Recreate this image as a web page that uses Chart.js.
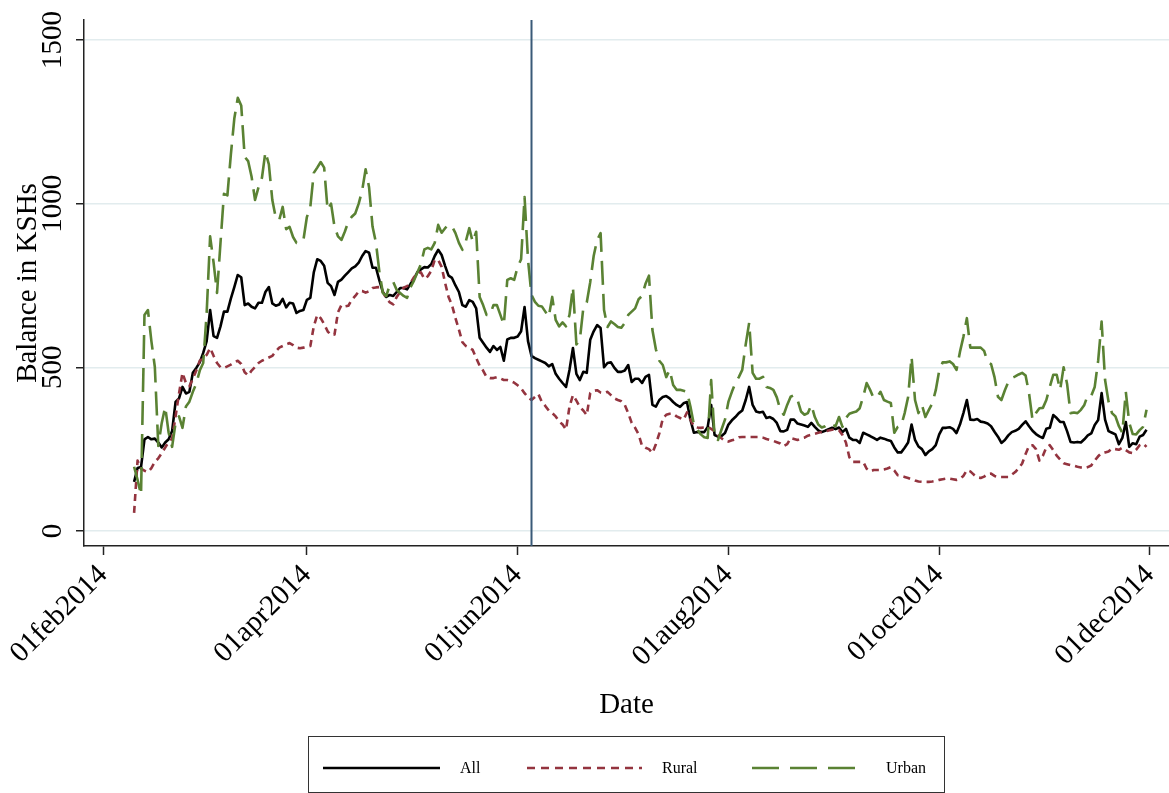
<!DOCTYPE html>
<html>
<head>
<meta charset="utf-8">
<script src="https://cdn.jsdelivr.net/npm/chart.js@4.4.1/dist/chart.umd.min.js"></script>
<style>
  html, body { margin: 0; padding: 0; background: #ffffff; }
  #wrap { width: 1169px; height: 793px; position: relative; }
</style>
</head>
<body>
<div id="wrap"><canvas id="c" width="1169" height="793"></canvas></div>
<script>
// Daily mean balances (KSh), one value per day starting at firstDate
const firstDate = '2014-02-10';
const axisOrigin = '2014-02-01';
const tickDates = ['2014-02-01', '2014-04-01', '2014-06-01', '2014-08-01', '2014-10-01', '2014-12-01'];
const tickLabels = ['01feb2014', '01apr2014', '01jun2014', '01aug2014', '01oct2014', '01dec2014'];
const yTickValues = [0, 500, 1000, 1500];
const eventDate = '2014-06-05';
const seriesNames = ['All', 'Rural', 'Urban'];

const allBalance = [
  150,192,195,280,287,280,282,270,255,270,
  280,305,394,405,440,420,425,483,498,515,
  544,580,675,595,590,625,670,670,710,745,
  782,775,690,695,685,680,697,697,730,745,
  695,688,692,709,683,697,695,666,672,675,
  706,712,790,830,825,810,758,748,721,761,
  768,780,791,802,808,820,840,855,850,804,
  804,765,730,715,721,718,730,742,742,738,
  755,770,791,799,806,805,815,840,859,843,
  810,780,773,750,730,690,685,705,700,680,
  590,575,560,547,565,553,562,520,585,590,
  590,594,610,684,580,535,528,523,518,513,
  503,510,480,465,452,440,492,559,480,461,
  486,483,584,610,629,620,500,513,515,498,
  486,486,490,507,455,465,465,452,471,477,
  385,380,400,409,412,405,394,385,379,390,
  394,340,300,302,302,302,318,385,293,288,
  290,299,325,338,348,360,368,400,440,385,
  365,362,364,345,348,342,330,305,304,309,
  340,340,328,325,322,318,330,318,307,302,
  306,311,315,311,316,302,312,285,278,278,
  269,300,295,290,284,278,285,282,278,275,
  255,240,240,254,270,325,278,258,250,232,
  243,250,262,295,315,315,317,312,299,325,
  360,400,340,339,342,334,332,328,320,303,
  288,269,278,292,302,306,312,324,335,320,
  306,296,289,284,312,315,354,345,333,333,
  305,272,270,272,270,280,292,298,324,339,
  421,340,305,300,295,265,284,333,257,268,
  265,288,293,309
];

const ruralBalance = [
  55,215,190,184,180,192,211,222,238,255,
  272,282,350,420,483,452,442,465,490,520,
  528,538,559,535,513,500,498,503,508,515,
  520,510,485,475,490,501,513,520,525,530,
  535,548,560,565,570,574,568,560,558,560,
  562,565,625,660,650,632,610,598,600,668,
  690,686,688,706,718,732,733,728,732,742,
  744,745,730,710,698,692,715,730,743,748,
  758,775,788,790,770,778,795,828,828,807,
  758,715,690,650,615,577,565,560,553,528,
  505,490,470,467,467,470,466,461,461,458,
  453,445,436,421,408,400,409,418,394,382,
  368,360,350,335,325,310,380,415,398,379,
  368,354,421,428,430,423,421,425,415,405,
  400,396,385,360,330,315,295,260,254,250,
  238,265,298,343,355,358,358,350,345,340,
  362,340,320,316,315,316,318,312,305,292,
  283,275,273,277,280,286,287,287,287,287,
  287,287,285,281,278,275,271,267,259,265,
  284,281,278,282,285,291,294,297,300,302,
  304,307,309,309,308,293,270,225,211,211,
  211,211,190,182,186,186,186,188,191,195,
  185,170,168,165,162,158,154,151,150,150,
  150,151,153,156,158,160,160,158,156,159,
  168,186,182,172,164,162,166,174,175,168,
  165,165,165,165,172,180,192,206,235,260,
  262,250,215,230,255,262,247,230,218,207,
  204,201,199,196,194,192,195,200,215,228,
  238,240,243,252,250,248,254,247,240,238,
  248,262,267,257
];

const urbanBalance = [
  196,156,110,660,675,580,501,260,330,379,
  300,257,330,350,315,380,395,425,450,490,
  513,666,900,820,727,880,1030,1025,1150,1260,
  1323,1300,1143,1130,1082,1011,1050,1079,1158,1120,
  1011,957,950,990,922,929,898,880,885,889,
  959,990,1094,1110,1127,1110,981,1000,929,900,
  889,915,945,960,970,1000,1040,1105,1050,930,
  880,790,727,718,752,761,736,727,718,712,
  745,765,790,815,860,865,860,880,935,911,
  925,935,930,910,880,859,885,925,883,914,
  715,690,660,660,690,690,660,630,767,772,
  767,807,830,1020,828,721,700,688,686,670,
  654,715,645,625,637,625,660,745,570,584,
  681,698,760,840,889,910,675,623,640,632,
  623,621,635,660,670,680,708,718,755,780,
  614,555,520,507,470,492,446,431,431,428,
  425,380,325,310,295,286,284,461,287,278,
  310,340,395,425,452,470,492,570,636,483,
  465,465,471,440,437,431,408,370,355,385,
  410,415,400,365,355,360,385,348,325,316,
  320,328,325,320,348,318,345,358,362,365,
  375,410,452,431,406,409,425,400,395,391,
  300,318,322,360,409,532,400,360,385,348,
  370,390,430,490,515,515,518,510,492,547,
  593,650,560,560,560,560,550,516,510,470,
  410,400,430,455,467,472,478,483,475,420,
  340,360,375,376,400,440,477,477,431,500,
  450,360,362,360,370,385,415,413,440,520,
  640,461,395,360,350,320,300,425,330,296,
  295,308,318,370
];

// ---- helpers -------------------------------------------------------------
const DAY_MS = 86400000;
function dayIndex(iso) {
  const [y, m, d] = iso.split('-').map(Number);
  const [y0, m0, d0] = axisOrigin.split('-').map(Number);
  return Math.round((Date.UTC(y, m - 1, d) - Date.UTC(y0, m0 - 1, d0)) / DAY_MS);
}
const startDay = dayIndex(firstDate);
const toPoints = (vals) => vals.map((v, i) => ({ x: startDay + i, y: v }));
const tickDays = tickDates.map(dayIndex);
const eventDay = dayIndex(eventDate);

const SERIF = "'Liberation Serif', 'Times New Roman', Times, serif";
const COLORS = { all: '#000000', rural: '#94343f', urban: '#5a8233', event: '#3a5a78', grid: '#e2ecee', axis: '#222222' };
const LINE_W = 2.6;

// ---- plugins: event marker, rotated y labels, legend box ------------------
const eventLine = {
  id: 'eventLine',
  afterDatasetsDraw(chart) {
    const { ctx, chartArea, scales } = chart;
    const x = Math.round(scales.x.getPixelForValue(eventDay)) + 0.5;
    ctx.save();
    ctx.strokeStyle = COLORS.event;
    ctx.lineWidth = 2;
    ctx.beginPath();
    ctx.moveTo(x, chartArea.top);
    ctx.lineTo(x, chartArea.bottom);
    ctx.stroke();
    ctx.restore();
  }
};

const yLabels = {
  id: 'yLabels',
  afterDraw(chart) {
    const { ctx, scales } = chart;
    ctx.save();
    ctx.fillStyle = '#000';
    ctx.font = `29px ${SERIF}`;
    ctx.textAlign = 'center';
    ctx.textBaseline = 'alphabetic';
    yTickValues.forEach(v => {
      const y = scales.y.getPixelForValue(v);
      ctx.save();
      ctx.translate(61, y);
      ctx.rotate(-Math.PI / 2);
      ctx.fillText(String(v), 0, 0);
      ctx.restore();
    });
    ctx.restore();
  }
};

const legendBox = {
  id: 'legendBox',
  afterDraw(chart) {
    const { ctx } = chart;
    const items = [
      { text: seriesNames[0], color: COLORS.all, dash: [], x0: 323, x1: 440, tx: 460 },
      { text: seriesNames[1], color: COLORS.rural, dash: [8, 6], x0: 527, x1: 642, tx: 662 },
      { text: seriesNames[2], color: COLORS.urban, dash: [27, 11], x0: 752, x1: 856, tx: 886 }
    ];
    const ly = 768;
    ctx.save();
    ctx.strokeStyle = '#333';
    ctx.lineWidth = 1;
    ctx.strokeRect(308.5, 736.5, 636, 56);
    items.forEach(it => {
      ctx.strokeStyle = it.color;
      ctx.lineWidth = LINE_W;
      ctx.setLineDash(it.dash);
      ctx.beginPath();
      ctx.moveTo(it.x0, ly);
      ctx.lineTo(it.x1, ly);
      ctx.stroke();
      ctx.setLineDash([]);
      ctx.fillStyle = '#000';
      ctx.font = `16px ${SERIF}`;
      ctx.textAlign = 'left';
      ctx.textBaseline = 'middle';
      ctx.fillText(it.text, it.tx, ly + 1);
    });
    ctx.restore();
  }
};

// ---- chart ---------------------------------------------------------------
new Chart(document.getElementById('c'), {
  type: 'line',
  data: {
    datasets: [
      { label: seriesNames[0], data: toPoints(allBalance), borderColor: COLORS.all, borderWidth: LINE_W, order: 2 },
      { label: seriesNames[1], data: toPoints(ruralBalance), borderColor: COLORS.rural, borderWidth: LINE_W, borderDash: [7, 5], order: 1 },
      { label: seriesNames[2], data: toPoints(urbanBalance), borderColor: COLORS.urban, borderWidth: LINE_W, borderDash: [24, 9], order: 0 }
    ]
  },
  options: {
    responsive: false,
    animation: false,
    devicePixelRatio: 1,
    elements: { point: { radius: 0 }, line: { tension: 0, fill: false, borderCapStyle: 'butt', borderJoinStyle: 'round' } },
    layout: { padding: { top: 20, left: 0, right: 0, bottom: 0 } },
    plugins: { legend: { display: false }, tooltip: { enabled: false } },
    scales: {
      x: {
        type: 'linear',
        min: -5.5,
        max: 308.5,
        afterBuildTicks(scale) { scale.ticks = tickDays.map(v => ({ value: v })); },
        afterFit(scale) { scale.height = 247; scale.paddingLeft = 0; scale.paddingRight = 0; },
        grid: { drawOnChartArea: false, drawTicks: true, tickLength: 9, tickColor: COLORS.axis, tickWidth: 1.5 },
        border: { display: true, color: COLORS.axis, width: 1.5 },
        ticks: {
          autoSkip: false, minRotation: 45, maxRotation: 45, padding: 3, color: '#000',
          font: { family: SERIF, size: 29 },
          callback: (v, i) => tickLabels[i]
        },
        title: { display: true, text: 'Date', color: '#000', font: { family: SERIF, size: 29 }, padding: { top: 0, bottom: 70 } }
      },
      y: {
        type: 'linear',
        min: -46,
        max: 1561,
        afterBuildTicks(scale) { scale.ticks = yTickValues.map(v => ({ value: v })); },
        afterFit(scale) { scale.width = 84; scale.paddingTop = 0; scale.paddingBottom = 0; },
        grid: { color: COLORS.grid, lineWidth: 1.5, drawTicks: true, tickLength: 8, tickColor: COLORS.axis, tickWidth: 1.5 },
        border: { display: true, color: COLORS.axis, width: 1.5 },
        ticks: { display: false },
        title: { display: true, text: 'Balance in KSHs', color: '#000', font: { family: SERIF, size: 29 }, padding: { top: 11, bottom: 0 } }
      }
    }
  },
  plugins: [eventLine, yLabels, legendBox]
});
</script>
</body>
</html>
